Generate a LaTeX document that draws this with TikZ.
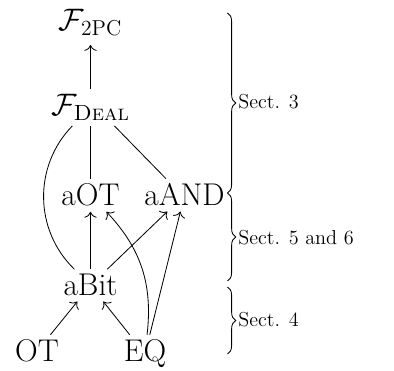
\documentclass[tikz,border=0pt]{standalone}
\usepackage{amsmath}
\usetikzlibrary{arrows.meta,decorations.pathreplacing}
\begin{document}
\begin{tikzpicture}[x=0.668pt,y=0.668pt,
  mod/.style={anchor=base, font=\fontsize{21}{25}\selectfont},
  arr/.style={-{To[scale=1.4]}},
  conn/.style={line width=0.55pt},
  sectlabel/.style={anchor=west, inner sep=0pt, font=\fontsize{13.5}{16}\selectfont},
  bracedeco/.style={line width=0.55pt, decorate, decoration={brace, amplitude=5.5pt}},
]
\useasboundingbox (0,0) rectangle (394,371);
% modules
\node[mod, inner ysep=1pt] (f2pc)  at (90.5,340)  {$\mathcal{F}_{\mathrm{2PC}}$};
\node[mod] (fdeal) at (90.5,255)  {$\mathcal{F}_{\text{\textsc{Deal}}}$};
\node[mod] (aot)   at (90.5,165)  {aOT};
\node[mod] (aand)  at (184.5,165) {aAND};
\node[mod] (abit)  at (90.5,75)   {aBit};
\node[mod] (ot)    at (37,9)      {OT};
\node[mod] (eq)    at (145,9)     {EQ};
% connectors
\draw[conn,arr,shorten >=5pt] (fdeal) -- (f2pc);
\draw[conn] (fdeal) -- (aot);
\draw[conn] ([xshift=16pt]fdeal.south) -- ([xshift=-12.5pt]aand.north);
\draw[conn] (fdeal) to[bend right=45] (abit);
\draw[conn,arr] (abit) -- (aot);
\draw[conn,arr] (abit) -- (aand);
\draw[conn,arr] (eq) to[bend right=25] (aot);
\draw[conn,arr] (eq) -- (aand);
\draw[conn,arr] (ot) -- (abit);
\draw[conn,arr] (eq) -- (abit);
% braces
\coordinate (b1t) at (227.5,358);
\coordinate (b1b) at (227.5,178);
\coordinate (b2t) at (227.5,178);
\coordinate (b2b) at (227.5,90);
\coordinate (b3t) at (227.5,84);
\coordinate (b3b) at (227.5,17);
\draw[bracedeco] (b1t) -- (b1b);
\draw[bracedeco] (b2t) -- (b2b);
\draw[bracedeco] (b3t) -- (b3b);
\node[sectlabel] (s3)  at (238,269) {Sect. 3};
\node[sectlabel] (s56) at (238,133) {Sect. 5 and 6};
\node[sectlabel] (s4)  at (238,51)  {Sect. 4};
\end{tikzpicture}
\end{document}
